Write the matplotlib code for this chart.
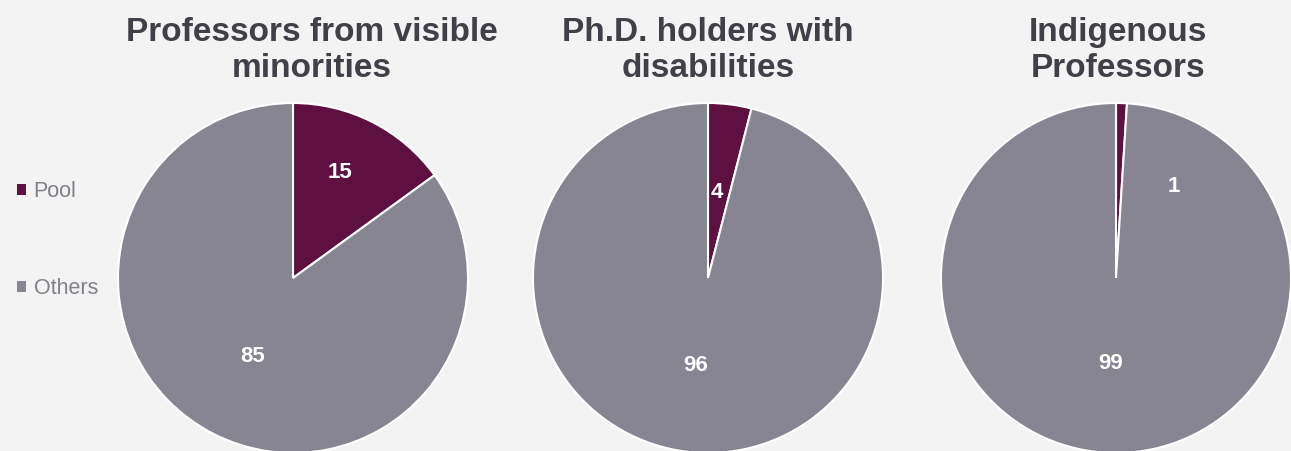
import matplotlib.pyplot as plt
from matplotlib.patches import Patch

titles = ["Professors from visible\nminorities", "Ph.D. holders with\ndisabilities", "Indigenous\nProfessors"]
pool = [15, 4, 1]
others = [85, 96, 99]
series_names = ["Pool", "Others"]
colors = ["#5E1040", "#868591"]

# label positions (x, y) in radius units relative to each pie's centre
pool_label_pos = [(0.27, 0.60), (0.05, 0.49), (0.33, 0.52)]
others_label_pos = [(-0.23, -0.45), (-0.07, -0.50), (-0.03, -0.49)]

plt.rcParams['font.family'] = ['Liberation Sans', 'DejaVu Sans']

W, H = 1291, 451
fig = plt.figure(figsize=(W / 100, H / 100), dpi=100)
fig.patch.set_facecolor("#F3F3F3")

centres_x = [293, 708, 1116]
r = 175
title_x = [312, 708, 1118]

for i in range(3):
    cx = centres_x[i]
    ax = fig.add_axes([(cx - r) / W, (H - 278 - r) / H, 2 * r / W, 2 * r / H])
    ax.pie([pool[i], others[i]], colors=colors, startangle=90, counterclock=False,
           radius=1, wedgeprops=dict(edgecolor="white", linewidth=1.5))
    ax.set_xlim(-1, 1)
    ax.set_ylim(-1, 1)
    ax.set_aspect("equal")
    ax.axis("off")
    px, py = pool_label_pos[i]
    ox, oy = others_label_pos[i]
    ax.text(px, py, str(pool[i]), color="white", fontsize=16, fontweight="bold",
            ha="center", va="center")
    ax.text(ox, oy, str(others[i]), color="white", fontsize=16, fontweight="bold",
            ha="center", va="center")
    fig.text(title_x[i] / W, 1 - 17 / H, titles[i], ha="center", va="top",
             fontsize=24, fontweight="bold", color="#404048", linespacing=1.19)

handles = [Patch(facecolor=c, edgecolor="none") for c in colors]
leg = fig.legend(handles, series_names, loc="center left", bbox_to_anchor=(-2 / W, 1 - 240 / H),
                 frameon=False, fontsize=15.5, labelspacing=3.55, handlelength=0.4,
                 handleheight=0.4, handletextpad=0.35, labelcolor="#808089")

fig.savefig("out.png", dpi=100, facecolor=fig.get_facecolor())
